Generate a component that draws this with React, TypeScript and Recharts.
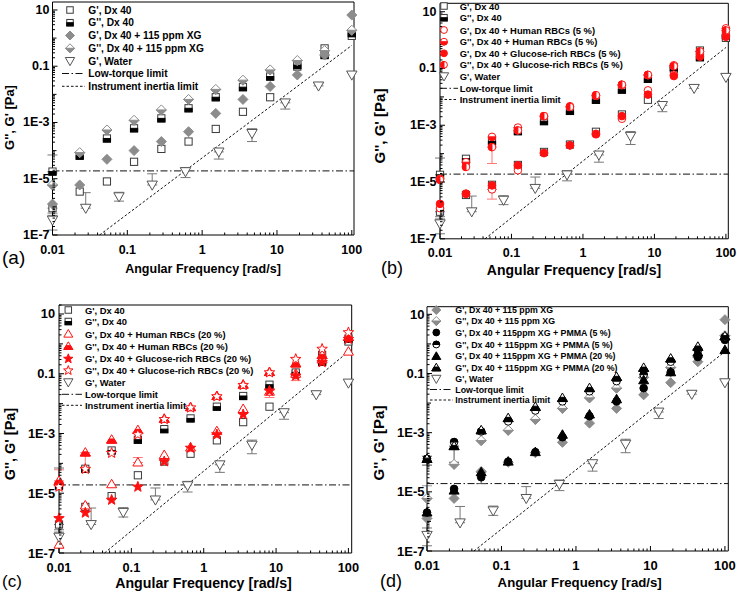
import React from 'react';
import { ScatterChart, Scatter, XAxis, YAxis, ReferenceLine, ErrorBar } from 'recharts';

const FONT = '"Liberation Sans", Arial, Helvetica, sans-serif';

// ---------- axis ticks ----------
const X_MAJOR = [0.01, 0.1, 1, 10, 100];
const X_LABELS = ['0.01', '0.1', '1', '10', '100'];
const Y_MAJOR = [1e-7, 1e-5, 1e-3, 0.1, 10];
const Y_LABELS = ['1E-7', '1E-5', '1E-3', '0.1', '10'];

// ---------- frequencies ----------
const FREQ = [0.01, 0.0231, 0.0534, 0.123, 0.285, 0.658, 1.52, 3.51, 8.11, 18.7, 43.3, 100];
const FREQ_WATER = [0.01, 0.0278, 0.0774, 0.215, 0.599, 1.67, 4.64, 12.9, 35.9, 100];

// ---------- Dx 40 ----------
const DX40_G1 = [9e-7, 3.5e-6, 8e-6, 4e-5, 1.15e-4, 2.1e-4, 5.9e-4, 2.4e-3, 7.9e-3, 0.097, 0.43, 1.2];
const DX40_G1_LO = [4e-7, 0, 0, 0, 0, 0, 0, 0, 0, 0, 0, 0];
const DX40_G2 = [1.8e-5, 6.6e-5, 2.7e-4, 6.2e-4, 1.4e-3, 3.2e-3, 7.9e-3, 0.018, 0.043, 0.11, 0.25, 1.5];
const DX40_G2_HI = [5.2e-5, 0, 0, 0, 0, 0, 0, 0, 0, 0, 0, 0];

// ---------- Dx 40 + 115 ppm XG ----------
const XG_G1 = [1.26e-6, 6e-6, 4.9e-5, 1e-4, 2.1e-4, 4.7e-4, 2.1e-3, 6.6e-3, 0.019, 0.049, 0.25, 6.6];
const XG_G2 = [6e-6, 8.5e-5, 5.4e-4, 1.2e-3, 2.8e-3, 6.6e-3, 0.015, 0.032, 0.074, 0.16, 0.36, 1.9];
const XG_G2_HI = [1e-5, 0, 0, 0, 0, 0, 0, 0, 0, 0, 0, 0];

// ---------- Water ----------
const WATER_G1 = [3.4e-7, 9e-7, 2.3e-6, 6e-6, 1.8e-5, 9e-5, 4.1e-4, 5e-3, 0.02, 0.049];
const WATER_LO = [1.9e-7, 0, 0.7e-6, 0, 0.7e-5, 4e-5, 2e-4, 2e-3, 0, 0];
const WATER_HI = [2.6e-7, 2.3e-6, 1e-6, 9e-6, 0.7e-5, 0, 1.9e-4, 0, 0.005, 0];

// ---------- RBCs 5 % ----------
const H5_G1 = [1.2e-6, 3.8e-6, 5.5e-6, 2.6e-5, 1.05e-4, 1.95e-4, 5e-4, 1.7e-3, 0.017, 0.06, 0.3, 1.5];
const H5_G1_LO = [0, 0, 3e-6, 0, 0, 0, 0, 0, 0, 0, 0, 0];
const H5_G2 = [1.3e-5, 5e-5, 3.9e-4, 8.3e-4, 2.1e-3, 4.7e-3, 0.011, 0.026, 0.058, 0.13, 0.39, 2.6];
const G5_G1 = [1.7e-6, 3.9e-6, 7.6e-6, 3.9e-5, 1.05e-4, 1.96e-4, 4.8e-4, 2.1e-3, 0.012, 0.054, 0.26, 1.3];
const G5_G2 = [1.2e-5, 3.4e-5, 1.7e-4, 6.6e-4, 2.1e-3, 4.4e-3, 0.0115, 0.027, 0.06, 0.12, 0.4, 2.2];
const G5_G2_LO = [0, 0, 1.25e-4, 0, 0, 0, 0, 0, 0, 0, 0, 0];

// ---------- RBCs 20 % ----------
const H20_G1 = [1.9e-7, 3.9e-6, 2e-5, 1.07e-4, 1.9e-4, 3.4e-4, 1.2e-3, 6.6e-3, 0.025, 0.1, 0.3, 0.55];
const H20_G1_HI = [0, 0, 0, 5e-5, 0, 0, 0, 0, 0, 0, 0, 0];
const H20_G2 = [2.6e-5, 2.3e-4, 6.2e-4, 1.3e-3, 3.1e-3, 7.6e-3, 0.018, 0.043, 0.114, 0.22, 0.42, 1.7];
const H20_G2_LO = [0, 1.6e-4, 0, 0, 0, 0, 0, 0, 0, 0, 0, 0];
const H20_G2_HI = [3.5e-5, 0, 0, 0, 0, 0, 0, 0, 0, 0, 0, 0];
const G20_G1 = [1.5e-6, 2.3e-6, 6.2e-6, 1.7e-5, 1.2e-4, 3.4e-4, 9.6e-4, 4.5e-3, 0.028, 0.089, 0.25, 1.5];
const G20_G1_LO = [0, 0, 0, 0, 0, 0, 0, 0, 0.012, 0.03, 0, 0];
const G20_G2 = [1.7e-5, 6.7e-5, 2.3e-4, 9.6e-4, 3.1e-3, 7.6e-3, 0.018, 0.043, 0.114, 0.32, 0.7, 2.5];

// ---------- PMMA ----------
const P5_G1 = [2e-6, 1.26e-5, 3.1e-5, 1.05e-4, 2.2e-4, 7e-4, 3.6e-3, 0.0114, 0.032, 0.11, 0.36, 1.35];
const P5_G1_LO = [0, 0, 1.2e-5, 0, 0, 0, 0, 0, 0, 0, 0, 0];
const P5_G1_HI = [0, 0, 1.5e-5, 0, 0, 0, 0, 0, 0, 0, 0, 0];
const P5_G2 = [1.3e-4, 4.8e-4, 1.1e-3, 2.4e-3, 5.6e-3, 0.0114, 0.025, 0.055, 0.091, 0.25, 0.6, 1.7];
const P5_G2_LO = [5e-5, 0, 0, 0, 0, 0, 0, 0, 0, 0, 0, 0];
const P5_G2_HI = [3e-5, 0, 0, 0, 0, 0, 0, 0, 0, 0, 0, 0];
const P20_G1 = [2e-6, 1.1e-5, 4.6e-5, 1.05e-4, 2.2e-4, 8.5e-4, 4.1e-3, 0.0135, 0.059, 0.11, 0.51, 0.62];
const P20_G2 = [1.3e-4, 3.5e-4, 1.2e-3, 3.1e-3, 7.4e-3, 0.0148, 0.032, 0.076, 0.155, 0.32, 0.8, 1.8];
const P20_G2_LO = [0, 2.5e-4, 0, 0, 0, 0, 0, 0, 0, 0, 0, 0];

// ---------- limits ----------
const LOW_TORQUE = 1.9e-5;
const INERTIA = [
  { x: 0.0426, y: 1e-7 },
  { x: 100, y: 0.55 },
];

// ---------- colours ----------
const C_SQ = '#3a3a3a';
const C_XG = '#8c8c8c';
const C_W = '#555';
const RED = '#ff1010';
const BLK = '#000';

type Pt = { x: number; y: number; e?: [number, number] };
const pts = (xs: number[], ys: number[], lo?: number[], hi?: number[]): Pt[] =>
  xs.map((x, i) => {
    const p: Pt = { x, y: ys[i] };
    const l = lo ? lo[i] : 0;
    const h = hi ? hi[i] : 0;
    if (l || h) p.e = [l, h];
    return p;
  });

function Marker({ kind, cx, cy, color, k = 1 }: { kind: string; cx: number; cy: number; color: string; k?: number }) {
  const sw = 1;
  switch (kind) {
    case 'sqOpen': {
      const s = 3.6 * k;
      return <rect x={cx - s} y={cy - s} width={2 * s} height={2 * s} fill="#fff" stroke={color} strokeWidth={sw} />;
    }
    case 'sqHalf': {
      const s = 3.6 * k;
      return (
        <g>
          <rect x={cx - s} y={cy - s} width={2 * s} height={2 * s} fill="#fff" stroke={color} strokeWidth={sw} />
          <rect x={cx - s} y={cy} width={2 * s} height={s} fill="#000" stroke="#000" strokeWidth={sw} />
        </g>
      );
    }
    case 'diaFill': {
      const s = 5 * k;
      return <polygon points={`${cx},${cy - s} ${cx + s},${cy} ${cx},${cy + s} ${cx - s},${cy}`} fill={color} stroke={color} strokeWidth={sw} />;
    }
    case 'diaHalf': {
      const s = 5 * k;
      return (
        <g>
          <polygon points={`${cx},${cy - s} ${cx + s},${cy} ${cx},${cy + s} ${cx - s},${cy}`} fill="#fff" stroke={color} strokeWidth={sw} />
          <polygon points={`${cx - s},${cy} ${cx + s},${cy} ${cx},${cy + s}`} fill={color} stroke={color} strokeWidth={sw} />
        </g>
      );
    }
    case 'triDown': {
      const w = 5.2 * k;
      return <polygon points={`${cx - w},${cy - 0.75 * w} ${cx + w},${cy - 0.75 * w} ${cx},${cy + w}`} fill="#fff" stroke={color} strokeWidth={sw} />;
    }
    case 'circOpen': {
      const r = 3.8 * k;
      return <circle cx={cx} cy={cy} r={r} fill="#fff" stroke={color} strokeWidth={sw} />;
    }
    case 'circFill': {
      const r = 3.8 * k;
      return <circle cx={cx} cy={cy} r={r} fill={color} stroke={color} strokeWidth={sw} />;
    }
    case 'circHalfB':
    case 'circHalfT':
    case 'circHalfL': {
      const r = 3.8 * k;
      let d = '';
      if (kind === 'circHalfB') d = `M${cx - r},${cy} A${r},${r} 0 0 0 ${cx + r},${cy} Z`;
      if (kind === 'circHalfT') d = `M${cx - r},${cy} A${r},${r} 0 0 1 ${cx + r},${cy} Z`;
      if (kind === 'circHalfL') d = `M${cx},${cy - r} A${r},${r} 0 0 0 ${cx},${cy + r} Z`;
      return (
        <g>
          <circle cx={cx} cy={cy} r={r} fill="#fff" stroke={color} strokeWidth={sw} />
          <path d={d} fill={color} stroke={color} strokeWidth={sw} />
        </g>
      );
    }
    case 'triUpOpen':
    case 'triUpFill':
    case 'triUpHalf': {
      const s = 5 * k;
      const top = cy - s;
      const base = cy + 0.7 * s;
      const mid = (top + base) / 2;
      const outline = `${cx},${top} ${cx + s},${base} ${cx - s},${base}`;
      if (kind === 'triUpHalf') {
        return (
          <g>
            <polygon points={outline} fill="#fff" stroke={color} strokeWidth={sw} />
            <polygon points={`${cx - s / 2},${mid} ${cx + s / 2},${mid} ${cx + s},${base} ${cx - s},${base}`} fill={color} stroke={color} strokeWidth={sw} />
          </g>
        );
      }
      return <polygon points={outline} fill={kind === 'triUpFill' ? color : '#fff'} stroke={color} strokeWidth={sw} />;
    }
    case 'starFill':
    case 'starOpen': {
      const R = 5.5 * k;
      const r = R * 0.42;
      const p: string[] = [];
      for (let i = 0; i < 10; i++) {
        const a = -Math.PI / 2 + (i * Math.PI) / 5;
        const rr = i % 2 === 0 ? R : r;
        p.push(`${cx + rr * Math.cos(a)},${cy + rr * Math.sin(a) + 0.5}`);
      }
      return <polygon points={p.join(' ')} fill={kind === 'starFill' ? color : '#fff'} stroke={color} strokeWidth={sw} strokeLinejoin="round" />;
    }
    default:
      return null;
  }
}

function logTicks(min: number, max: number): number[] {
  const out: number[] = [];
  for (let e = -8; e <= 3; e++) {
    for (let m = 1; m <= 9; m++) {
      const v = m * Math.pow(10, e);
      if (v >= min * 0.9999 && v <= max * 1.0001) out.push(v);
    }
  }
  return out;
}

const isDecade = (v: number) => Math.abs(Math.log10(v) - Math.round(Math.log10(v))) < 1e-6;

function makeTick(side: string, majors: number[], labels: string[], fontSize: number, offset: number) {
  return (props: any) => {
    const { x, y, payload } = props;
    const v = payload ? payload.value : 0;
    const idx = majors.findIndex((m) => Math.abs(Math.log10(m) - Math.log10(v)) < 1e-6);
    const len = idx >= 0 ? 5 : isDecade(v) ? 4 : 2.5;
    let x2 = x;
    let y2 = y;
    if (side === 'bottom') y2 = y - len;
    else if (side === 'top') y2 = y + len;
    else if (side === 'left') x2 = x + len;
    else x2 = x - len;
    return (
      <g>
        <line x1={x} y1={y} x2={x2} y2={y2} stroke="#000" strokeWidth={1} />
        {idx >= 0 && side === 'bottom' && (
          <text x={x} y={y + offset} textAnchor="middle" dominantBaseline="central" fontFamily={FONT} fontWeight="bold" fontSize={fontSize} fill="#000">
            {labels[idx]}
          </text>
        )}
        {idx >= 0 && side === 'left' && (
          <text x={x - offset} y={y} textAnchor="end" dominantBaseline="central" fontFamily={FONT} fontWeight="bold" fontSize={fontSize} fill="#000">
            {labels[idx]}
          </text>
        )}
      </g>
    );
  };
}

type Series = { name: string; data: Pt[]; kind: string; color: string; errColor?: string };
type LegendRow = { kind: string; color: string; label: string };

type Panel = {
  id: string;
  box: { left: number; top: number; w: number; h: number };
  plot: { l: number; r: number; t: number; b: number };
  xDomain: [number, number];
  yDomain: [number, number];
  tickFont: number;
  xTickDy: number;
  yTickDx: number;
  series: Series[];
  xTitle: { x: number; y: number; size: number };
  yTitle: { x: number; y: number; size: number };
  tag: { text: string; x: number; y: number; size: number };
  legend: { symX: number; textX: number; rows: number[]; font: number; lx1: number; lx2: number; items: LegendRow[] };
};

const dx40Series: Series[] = [
  { name: 'dxg1', data: pts(FREQ, DX40_G1, DX40_G1_LO), kind: 'sqOpen', color: C_SQ, errColor: '#777' },
  { name: 'dxg2', data: pts(FREQ, DX40_G2, undefined, DX40_G2_HI), kind: 'sqHalf', color: C_SQ, errColor: '#777' },
];
const xgSeries: Series[] = [
  { name: 'xgg1', data: pts(FREQ, XG_G1), kind: 'diaFill', color: C_XG },
  { name: 'xgg2', data: pts(FREQ, XG_G2, undefined, XG_G2_HI), kind: 'diaHalf', color: C_XG, errColor: '#999' },
];
const waterSeries: Series = { name: 'water', data: pts(FREQ_WATER, WATER_G1, WATER_LO, WATER_HI), kind: 'triDown', color: C_W, errColor: '#777' };

const LT = 'Low-torque limit';
const IIL = 'Instrument inertia limit';

const PANELS: Panel[] = [
  {
    id: 'a',
    box: { left: 0, top: 0, w: 368, h: 292 },
    plot: { l: 52.5, r: 354, t: 2, b: 235 },
    xDomain: [0.01, 107],
    yDomain: [1e-7, 19.2],
    tickFont: 12.5,
    xTickDy: 15,
    yTickDx: 3,
    series: [...dx40Series, ...xgSeries, waterSeries],
    xTitle: { x: 203, y: 268.5, size: 12.5 },
    yTitle: { x: 9.5, y: 117.5, size: 13 },
    tag: { text: '(a)', x: 2, y: 257, size: 19 },
    legend: {
      symX: 70, textX: 88.3, rows: [10, 22.7, 35.5, 48.3, 61, 73.5, 86.3], font: 10.2, lx1: 62, lx2: 85,
      items: [
        { kind: 'sqOpen', color: C_SQ, label: "G', Dx 40" },
        { kind: 'sqHalf', color: C_SQ, label: "G'', Dx 40" },
        { kind: 'diaFill', color: C_XG, label: "G', Dx 40 + 115 ppm XG" },
        { kind: 'diaHalf', color: C_XG, label: "G'', Dx 40 + 115 ppm XG" },
        { kind: 'triDown', color: C_W, label: "G', Water" },
        { kind: 'dashdot', color: '#000', label: LT },
        { kind: 'dash', color: '#000', label: IIL },
      ],
    },
  },
  {
    id: 'b',
    box: { left: 368, top: 0, w: 369, h: 292 },
    plot: { l: 440, r: 728.3, t: 3.3, b: 238.8 },
    xDomain: [0.01, 108],
    yDomain: [1e-7, 19.8],
    tickFont: 12.5,
    xTickDy: 14.5,
    yTickDx: 3.5,
    series: [
      ...dx40Series,
      { name: 'h5g1', data: pts(FREQ, H5_G1, H5_G1_LO), kind: 'circOpen', color: RED, errColor: '#f77' },
      { name: 'h5g2', data: pts(FREQ, H5_G2), kind: 'circHalfB', color: RED },
      { name: 'g5g1', data: pts(FREQ, G5_G1), kind: 'circFill', color: RED },
      { name: 'g5g2', data: pts(FREQ, G5_G2, G5_G2_LO), kind: 'circHalfL', color: RED, errColor: '#f77' },
      waterSeries,
    ],
    xTitle: { x: 574, y: 270, size: 14 },
    yTitle: { x: 379.5, y: 126, size: 15 },
    tag: { text: '(b)', x: 381, y: 268, size: 18 },
    legend: {
      symX: 444, textX: 459.7, rows: [6, 17.7, 30, 41.7, 53.3, 64.8, 76.3, 88.3, 99.5], font: 9.4, lx1: 440, lx2: 458,
      items: [
        { kind: 'sqOpen', color: C_SQ, label: "G', Dx 40" },
        { kind: 'sqHalf', color: C_SQ, label: "G'', Dx 40" },
        { kind: 'circOpen', color: RED, label: "G', Dx 40 + Human RBCs (5 %)" },
        { kind: 'circHalfB', color: RED, label: "G'', Dx 40 + Human RBCs (5 %)" },
        { kind: 'circFill', color: RED, label: "G', Dx 40 + Glucose-rich RBCs (5 %)" },
        { kind: 'circHalfL', color: RED, label: "G'', Dx 40 + Glucose-rich RBCs (5 %)" },
        { kind: 'triDown', color: C_W, label: "G', Water" },
        { kind: 'dashdot', color: '#000', label: LT },
        { kind: 'dash', color: '#000', label: IIL },
      ],
    },
  },
  {
    id: 'c',
    box: { left: 0, top: 295, w: 368, h: 299 },
    plot: { l: 59, r: 351.7, t: 305, b: 553 },
    xDomain: [0.01, 111],
    yDomain: [1e-7, 20],
    tickFont: 12.8,
    xTickDy: 14.5,
    yTickDx: 4,
    series: [
      ...dx40Series,
      { name: 'h20g1', data: pts(FREQ, H20_G1, undefined, H20_G1_HI), kind: 'triUpOpen', color: RED, errColor: '#f77' },
      { name: 'h20g2', data: pts(FREQ, H20_G2, H20_G2_LO, H20_G2_HI), kind: 'triUpHalf', color: RED, errColor: '#f77' },
      { name: 'g20g1', data: pts(FREQ, G20_G1, G20_G1_LO), kind: 'starFill', color: RED, errColor: '#f77' },
      { name: 'g20g2', data: pts(FREQ, G20_G2), kind: 'starOpen', color: RED },
      waterSeries,
    ],
    xTitle: { x: 203.5, y: 583, size: 14.2 },
    yTitle: { x: 9.5, y: 444, size: 14.5 },
    tag: { text: '(c)', x: 2, y: 581, size: 17 },
    legend: {
      symX: 68.3, textX: 85, rows: [310, 321.5, 334, 346.3, 358.3, 370, 382.3, 394.3, 405.3], font: 9.4, lx1: 62, lx2: 82,
      items: [
        { kind: 'sqOpen', color: C_SQ, label: "G', Dx 40" },
        { kind: 'sqHalf', color: C_SQ, label: "G'', Dx 40" },
        { kind: 'triUpOpen', color: RED, label: "G', Dx 40 + Human RBCs (20 %)" },
        { kind: 'triUpHalf', color: RED, label: "G'', Dx 40 + Human RBCs (20 %)" },
        { kind: 'starFill', color: RED, label: "G', Dx 40 + Glucose-rich RBCs (20 %)" },
        { kind: 'starOpen', color: RED, label: "G'', Dx 40 + Glucose-rich RBCs (20 %)" },
        { kind: 'triDown', color: C_W, label: "G', Water" },
        { kind: 'dashdot', color: '#000', label: LT },
        { kind: 'dash', color: '#000', label: IIL },
      ],
    },
  },
  {
    id: 'd',
    box: { left: 368, top: 295, w: 369, h: 299 },
    plot: { l: 427, r: 728.3, t: 306.7, b: 551 },
    xDomain: [0.01, 111],
    yDomain: [1e-7, 18.1],
    tickFont: 13,
    xTickDy: 14.5,
    yTickDx: 2.5,
    series: [
      ...xgSeries,
      { name: 'p5g1', data: pts(FREQ, P5_G1, P5_G1_LO, P5_G1_HI), kind: 'circFill', color: BLK, errColor: '#555' },
      { name: 'p5g2', data: pts(FREQ, P5_G2, P5_G2_LO, P5_G2_HI), kind: 'circHalfT', color: BLK, errColor: '#555' },
      { name: 'p20g1', data: pts(FREQ, P20_G1), kind: 'triUpFill', color: BLK },
      { name: 'p20g2', data: pts(FREQ, P20_G2, P20_G2_LO), kind: 'triUpHalf', color: BLK, errColor: '#555' },
      waterSeries,
    ],
    xTitle: { x: 579.7, y: 582, size: 13.2 },
    yTitle: { x: 378, y: 443, size: 15 },
    tag: { text: '(d)', x: 380, y: 581, size: 18 },
    legend: {
      symX: 436.3, textX: 455.3, rows: [310, 321, 332.5, 344.5, 356.3, 367.7, 378.8, 389.5, 400], font: 8.8, lx1: 430, lx2: 453,
      items: [
        { kind: 'diaFill', color: C_XG, label: "G', Dx 40 + 115 ppm XG" },
        { kind: 'diaHalf', color: C_XG, label: "G'', Dx 40 + 115 ppm XG" },
        { kind: 'circFill', color: BLK, label: "G', Dx 40 + 115ppm XG + PMMA (5 %)" },
        { kind: 'circHalfT', color: BLK, label: "G'', Dx 40 + 115ppm XG + PMMA (5 %)" },
        { kind: 'triUpFill', color: BLK, label: "G', Dx 40 + 115ppm XG + PMMA (20 %)" },
        { kind: 'triUpHalf', color: BLK, label: "G'', Dx 40 + 115ppm XG + PMMA (20 %)" },
        { kind: 'triDown', color: C_W, label: "G', Water" },
        { kind: 'dashdot', color: '#000', label: LT },
        { kind: 'dash', color: '#000', label: IIL },
      ],
    },
  },
];

const DASHDOT = '7 2.5 1.5 2.5';
const DASH = '2.5 2';

function PanelChart({ p }: { p: Panel }) {
  const { box, plot } = p;
  const leftW = plot.l - box.left;
  const rightW = box.left + box.w - plot.r;
  const topH = plot.t - box.top;
  const bottomH = box.top + box.h - plot.b;
  const xTicks = logTicks(p.xDomain[0], p.xDomain[1]);
  const yTicks = logTicks(p.yDomain[0], p.yDomain[1]);
  const axisCommon = { type: 'number' as const, scale: 'log' as const, tickSize: 0, tickMargin: 0, tickLine: false, interval: 0 as const, axisLine: { stroke: '#000', strokeWidth: 1 } };
  return (
    <div style={{ position: 'absolute', left: box.left, top: box.top, width: box.w, height: box.h }}>
      <ScatterChart width={box.w} height={box.h} margin={{ top: 0, right: 0, bottom: 0, left: 0 }}>
        <XAxis {...axisCommon} xAxisId="b" orientation="bottom" dataKey="x" domain={p.xDomain} ticks={xTicks} height={bottomH}
          tick={makeTick('bottom', X_MAJOR, X_LABELS, p.tickFont, p.xTickDy)} />
        <XAxis {...axisCommon} xAxisId="t" orientation="top" dataKey="x" domain={p.xDomain} ticks={xTicks} height={topH}
          tick={makeTick('top', X_MAJOR, X_LABELS, p.tickFont, 0)} />
        <YAxis {...axisCommon} yAxisId="l" orientation="left" dataKey="y" domain={p.yDomain} ticks={yTicks} width={leftW}
          tick={makeTick('left', Y_MAJOR, Y_LABELS, p.tickFont, p.yTickDx)} />
        <YAxis {...axisCommon} yAxisId="r" orientation="right" dataKey="y" domain={p.yDomain} ticks={yTicks} width={rightW}
          tick={makeTick('right', Y_MAJOR, Y_LABELS, p.tickFont, 0)} />
        <ReferenceLine xAxisId="b" yAxisId="l" y={LOW_TORQUE} stroke="#111" strokeWidth={1} strokeDasharray={DASHDOT} />
        <ReferenceLine xAxisId="b" yAxisId="l" segment={INERTIA} stroke="#111" strokeWidth={1} strokeDasharray={DASH} />
        {p.series.map((s) => (
          <Scatter
            key={s.name}
            name={s.name}
            xAxisId="b"
            yAxisId="l"
            data={s.data}
            isAnimationActive={false}
            shape={(sp: any) => <Marker kind={s.kind} cx={sp.cx} cy={sp.cy} color={s.color} />}
          >
            {s.errColor && <ErrorBar dataKey="e" direction="y" width={5} stroke={s.errColor} strokeWidth={1} />}
          </Scatter>
        ))}
      </ScatterChart>
    </div>
  );
}

function Overlay() {
  return (
    <svg width={737} height={594} style={{ position: 'absolute', left: 0, top: 0, pointerEvents: 'none' }}>
      {PANELS.map((p) => (
        <g key={p.id}>
          <text x={p.xTitle.x} y={p.xTitle.y} textAnchor="middle" dominantBaseline="central" fontFamily={FONT} fontWeight="bold" fontSize={p.xTitle.size} fill="#000">
            Angular Frequency [rad/s]
          </text>
          <text
            x={p.yTitle.x}
            y={p.yTitle.y}
            textAnchor="middle"
            dominantBaseline="central"
            fontFamily={FONT}
            fontWeight="bold"
            fontSize={p.yTitle.size}
            fill="#000"
            transform={`rotate(-90 ${p.yTitle.x} ${p.yTitle.y})`}
          >
            G'', G' [Pa]
          </text>
          <text x={p.tag.x} y={p.tag.y} dominantBaseline="central" fontFamily={FONT} fontSize={p.tag.size} fill="#000">
            {p.tag.text}
          </text>
          {p.legend.items.map((it, i) => {
            const y = p.legend.rows[i];
            return (
              <g key={i}>
                {it.kind === 'dashdot' || it.kind === 'dash' ? (
                  <line x1={p.legend.lx1} x2={p.legend.lx2} y1={y} y2={y} stroke="#111" strokeWidth={1} strokeDasharray={it.kind === 'dash' ? DASH : DASHDOT} />
                ) : (
                  <Marker kind={it.kind} cx={p.legend.symX} cy={y} color={it.color} k={0.9} />
                )}
                <text x={p.legend.textX} y={y} dominantBaseline="central" fontFamily={FONT} fontWeight="bold" fontSize={p.legend.font} fill="#000">
                  {it.label}
                </text>
              </g>
            );
          })}
        </g>
      ))}
    </svg>
  );
}

export default function App() {
  return (
    <div style={{ position: 'absolute', left: 0, top: 0, width: 737, height: 594, background: '#fff', overflow: 'hidden' }}>
      {PANELS.map((p) => (
        <PanelChart key={p.id} p={p} />
      ))}
      <Overlay />
    </div>
  );
}
